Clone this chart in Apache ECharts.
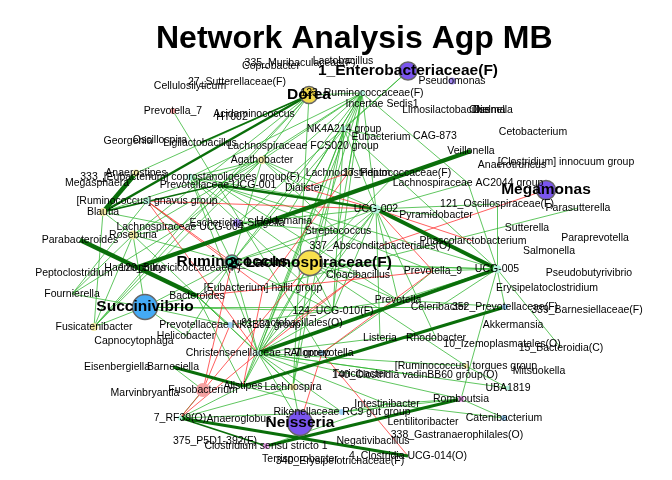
<!DOCTYPE html>
<html>
<head>
<meta charset="utf-8">
<script src="https://cdn.jsdelivr.net/npm/echarts@6/dist/echarts.min.js"></script>
<style>
  html, body { margin: 0; padding: 0; background: #fff; }
  #chart { width: 672px; height: 480px; }
</style>
</head>
<body>
<div id="chart"></div>
<script>
// node name, layout x, layout y
const nodes = [
  ['335_Muribaculaceae(F)', 300, 63], ['Coprobacter', 271, 66], ['Lactobacillus', 343, 61],
  ['1_Enterobacteriaceae(F)', 408, 71], ['Pseudomonas', 452, 81], ['27_Sutterellaceae(F)', 237, 82],
  ['Cellulosilyticum', 190, 86], ['Dorea', 309, 95], ['123_Ruminococcaceae(F)', 362, 93],
  ['Incertae Sedis1', 382, 104], ['Limosilactobacillus', 446, 110], ['Olsenella', 491, 110],
  ['Dielma', 489, 110], ['Prevotella_7', 173, 111], ['HT002', 232, 117],
  ['Acidaminococcus', 254, 114], ['NK4A214 group', 344, 129], ['Eubacterium', 381, 137],
  ['CAG-873', 435, 136], ['Cetobacterium', 533, 132], ['Georgenia', 128, 141],
  ['Oscillospira', 160, 140], ['Ligilactobacillus', 200, 143], ['Lachnospiraceae FCS020 group', 303, 146],
  ['Veillonella', 471, 151], ['Agathobacter', 262, 160], ['[Clostridium] innocuum group', 566, 162],
  ['Anaerotruncus', 512, 165], ['Anaerostipes', 136, 173], ['333_[Eubacterium] coprostanoligenes group(F)', 190, 177],
  ['Megasphaera', 97, 183], ['Prevotellaceae UCG-001', 218, 185], ['Lachnoclostridium', 348, 173],
  ['17_Peptococcaceae(F)', 397, 173], ['Dialister', 304, 188], ['Lachnospiraceae AC2044 group', 468, 183],
  ['Megamonas', 546, 190], ['121_Oscillospiraceae(F)', 497, 204], ['Parasutterella', 578, 208],
  ['[Ruminococcus] gnavus group', 147, 201], ['Blautia', 103, 212], ['UCG-002', 376, 209],
  ['Pyramidobacter', 436, 215], ['Holdemania', 284, 221], ['Escherichia-Shigella', 237, 223],
  ['Lachnospiraceae UCG-004', 180, 227], ['Sutterella', 527, 228], ['Streptococcus', 338, 231],
  ['Roseburia', 133, 235], ['Parabacteroides', 80, 240], ['Phascolarctobacterium', 473, 241],
  ['Paraprevotella', 595, 238], ['337_Absconditabacteriales(O)', 380, 246], ['Salmonella', 549, 251],
  ['Ruminococcus', 232, 262], ['2_Lachnospiraceae(F)', 310, 263], ['Cloacibacillus', 358, 275],
  ['Prevotella_9', 433, 271], ['UCG-005', 497, 269], ['Pseudobutyrivibrio', 589, 273],
  ['Peptoclostridium', 74, 273], ['Haemophilus', 135, 268], ['120_Butyricicoccaceae(F)', 180, 268],
  ['Erysipelatoclostridium', 547, 288], ['[Eubacterium] hallii group', 263, 288], ['Fournierella', 72, 294],
  ['Bacteroides', 197, 296], ['Succinivibrio', 145, 307], ['Prevotella', 398, 300],
  ['Celeribacter', 439, 307], ['352_Prevotellaceae(F)', 505, 307], ['339_Barnesiellaceae(F)', 587, 310],
  ['124_UCG-010(F)', 333, 311], ['Prevotellaceae NK3B31 group', 230, 325], ['91_Lactobacillales(O)', 292, 323],
  ['Akkermansia', 513, 325], ['Fusicatenibacter', 94, 327], ['Helicobacter', 186, 336],
  ['Capnocytophaga', 134, 341], ['Listeria', 380, 338], ['Rhodobacter', 436, 338],
  ['10_Izemoplasmatales(O)', 502, 344], ['15_Bacteroidia(C)', 561, 348], ['Christensenellaceae R-7 group', 258, 353],
  ['Alloprevotella', 322, 353], ['[Ruminococcus] torgues group', 466, 366], ['Mitsuokella', 539, 371],
  ['Eisenbergiella', 117, 367], ['Barnesiella', 173, 367], ['Turicibacter', 360, 374],
  ['140_Clostridia vadinBB60 group(O)', 415, 375], ['UBA1819', 508, 388], ['Alistipes', 243, 386],
  ['Lachnospira', 293, 387], ['Marvinbryantia', 145, 393], ['Fusobacterium', 203, 390],
  ['Romboutsia', 461, 399], ['Intestinibacter', 387, 404], ['7_RF39(O)', 180, 418],
  ['Anaeroglobus', 239, 419], ['Rikenellaceae RC9 gut group', 342, 412], ['Catenibacterium', 504, 418],
  ['Neisseria', 300, 423], ['Lentilitoribacter', 423, 422], ['375_P5D1-392(F)', 215, 441],
  ['Negativibacillus', 373, 441], ['338_Gastranaerophilales(O)', 457, 435], ['Clostridium sensu stricto 1', 266, 446],
  ['4_Clostridia UCG-014(O)', 408, 456], ['Terrisporobacter', 300, 459], ['340_Erysipelotrichaceae(F)', 340, 461]
];

// strong positive correlations: [from, to, strength]
const strongLinks = [
  ['Anaerostipes', 'Blautia', 4.5], ['Dorea', 'Blautia', 2.5], ['Parabacteroides', 'Bacteroides', 4.5],
  ['Haemophilus', 'Veillonella', 4.5], ['Prevotellaceae UCG-001', 'UCG-002', 2.5], ['UCG-002', 'UCG-005', 4],
  ['Christensenellaceae R-7 group', 'UCG-005', 3.5], ['Alistipes', '352_Prevotellaceae(F)', 3],
  ['Barnesiella', 'Alistipes', 3], ['Clostridium sensu stricto 1', 'Romboutsia', 3],
  ['7_RF39(O)', '4_Clostridia UCG-014(O)', 3], ['7_RF39(O)', 'Clostridium sensu stricto 1', 1.8],
  ['Dorea', 'Ligilactobacillus', 1.5], ['Blautia', 'Prevotellaceae UCG-001', 1.5]
];

// positive correlations
const posLinks = [
  ['123_Ruminococcaceae(F)', 'Dorea'], ['123_Ruminococcaceae(F)', 'Agathobacter'], ['123_Ruminococcaceae(F)', 'Lachnospiraceae FCS020 group'],
  ['123_Ruminococcaceae(F)', 'NK4A214 group'], ['123_Ruminococcaceae(F)', 'Dialister'], ['123_Ruminococcaceae(F)', 'Lachnoclostridium'],
  ['123_Ruminococcaceae(F)', 'UCG-002'], ['123_Ruminococcaceae(F)', 'Streptococcus'], ['123_Ruminococcaceae(F)', '2_Lachnospiraceae(F)'],
  ['123_Ruminococcaceae(F)', 'Ruminococcus'], ['123_Ruminococcaceae(F)', 'Christensenellaceae R-7 group'], ['123_Ruminococcaceae(F)', '124_UCG-010(F)'],
  ['123_Ruminococcaceae(F)', 'Lachnospiraceae AC2044 group'], ['123_Ruminococcaceae(F)', '333_[Eubacterium] coprostanoligenes group(F)'],
  ['123_Ruminococcaceae(F)', 'Prevotellaceae UCG-001'], ['123_Ruminococcaceae(F)', 'Holdemania'],
  ['1_Enterobacteriaceae(F)', 'NK4A214 group'], ['1_Enterobacteriaceae(F)', 'Escherichia-Shigella'],
  ['Dorea', 'Agathobacter'], ['Dorea', 'Roseburia'], ['Dorea', 'Anaerostipes'], ['Dorea', 'Lachnospiraceae UCG-004'],
  ['Dorea', 'Fusicatenibacter'], ['Dorea', 'Lachnospira'],
  ['Agathobacter', 'Blautia'], ['Agathobacter', 'Roseburia'], ['Agathobacter', 'Lachnospiraceae UCG-004'], ['Agathobacter', 'Ruminococcus'],
  ['Agathobacter', 'Fusicatenibacter'], ['Agathobacter', 'UCG-002'], ['Agathobacter', 'Dialister'], ['Agathobacter', 'Streptococcus'],
  ['NK4A214 group', 'UCG-002'], ['NK4A214 group', 'Christensenellaceae R-7 group'], ['NK4A214 group', '124_UCG-010(F)'],
  ['NK4A214 group', '2_Lachnospiraceae(F)'], ['NK4A214 group', 'UCG-005'], ['NK4A214 group', 'Eubacterium'],
  ['NK4A214 group', 'Ruminococcus'], ['NK4A214 group', 'Lachnospira'], ['NK4A214 group', 'Alistipes'],
  ['Prevotella_7', 'Prevotellaceae UCG-001'],
  ['333_[Eubacterium] coprostanoligenes group(F)', 'UCG-002'], ['333_[Eubacterium] coprostanoligenes group(F)', 'Ruminococcus'],
  ['333_[Eubacterium] coprostanoligenes group(F)', '2_Lachnospiraceae(F)'], ['333_[Eubacterium] coprostanoligenes group(F)', 'Christensenellaceae R-7 group'],
  ['333_[Eubacterium] coprostanoligenes group(F)', '124_UCG-010(F)'], ['333_[Eubacterium] coprostanoligenes group(F)', 'UCG-005'],
  ['333_[Eubacterium] coprostanoligenes group(F)', 'Agathobacter'],
  ['Prevotellaceae UCG-001', 'Prevotella'], ['Prevotellaceae UCG-001', 'Prevotella_9'], ['Prevotellaceae UCG-001', 'Alloprevotella'],
  ['Blautia', 'Fusicatenibacter'], ['Blautia', 'Roseburia'], ['Blautia', 'Lachnospiraceae UCG-004'],
  ['Roseburia', 'Fusicatenibacter'], ['Roseburia', 'Lachnospiraceae UCG-004'], ['Roseburia', 'Ruminococcus'],
  ['Roseburia', 'Succinivibrio'], ['Roseburia', 'Lachnospira'],
  ['[Ruminococcus] gnavus group', 'Lachnospiraceae UCG-004'], ['[Ruminococcus] gnavus group', 'Fournierella'], ['[Ruminococcus] gnavus group', 'Blautia'],
  ['Escherichia-Shigella', 'Holdemania'], ['Escherichia-Shigella', 'Streptococcus'], ['Escherichia-Shigella', 'UCG-002'],
  ['Ruminococcus', '2_Lachnospiraceae(F)'], ['Ruminococcus', 'Christensenellaceae R-7 group'], ['Ruminococcus', 'UCG-002'],
  ['Ruminococcus', 'UCG-005'], ['Ruminococcus', 'Bacteroides'], ['Ruminococcus', 'Succinivibrio'], ['Ruminococcus', '124_UCG-010(F)'],
  ['Ruminococcus', 'Streptococcus'], ['Ruminococcus', 'Helicobacter'],
  ['2_Lachnospiraceae(F)', 'UCG-002'], ['2_Lachnospiraceae(F)', 'UCG-005'], ['2_Lachnospiraceae(F)', 'Christensenellaceae R-7 group'],
  ['2_Lachnospiraceae(F)', 'Alistipes'], ['2_Lachnospiraceae(F)', 'Lachnospira'], ['2_Lachnospiraceae(F)', '124_UCG-010(F)'],
  ['2_Lachnospiraceae(F)', 'Cloacibacillus'], ['2_Lachnospiraceae(F)', 'Prevotella'], ['2_Lachnospiraceae(F)', '17_Peptococcaceae(F)'],
  ['UCG-002', 'Christensenellaceae R-7 group'], ['UCG-002', '124_UCG-010(F)'], ['UCG-002', 'Prevotella'], ['UCG-002', 'Listeria'],
  ['UCG-002', 'Pyramidobacter'], ['UCG-002', '121_Oscillospiraceae(F)'], ['UCG-002', 'Rhodobacter'], ['UCG-002', '91_Lactobacillales(O)'],
  ['UCG-005', 'Prevotella_9'], ['UCG-005', 'Prevotella'], ['UCG-005', '352_Prevotellaceae(F)'], ['UCG-005', 'Celeribacter'],
  ['UCG-005', '15_Bacteroidia(C)'], ['UCG-005', 'Romboutsia'], ['UCG-005', 'Lachnospiraceae AC2044 group'], ['UCG-005', '121_Oscillospiraceae(F)'],
  ['Succinivibrio', 'Fusicatenibacter'], ['Succinivibrio', 'Bacteroides'], ['Succinivibrio', 'Fournierella'],
  ['Succinivibrio', 'Prevotellaceae NK3B31 group'], ['Succinivibrio', '124_UCG-010(F)'], ['Succinivibrio', 'Celeribacter'],
  ['Succinivibrio', 'Helicobacter'],
  ['Fournierella', 'Roseburia'], ['Fournierella', 'Lachnospiraceae UCG-004'],
  ['Fusicatenibacter', 'Lachnospiraceae UCG-004'],
  ['Bacteroides', 'Christensenellaceae R-7 group'], ['Bacteroides', 'Alistipes'], ['Bacteroides', 'Prevotellaceae NK3B31 group'],
  ['Christensenellaceae R-7 group', '124_UCG-010(F)'], ['Christensenellaceae R-7 group', 'Alistipes'], ['Christensenellaceae R-7 group', 'Lachnospira'],
  ['Christensenellaceae R-7 group', 'Rikenellaceae RC9 gut group'], ['Christensenellaceae R-7 group', 'Listeria'],
  ['Christensenellaceae R-7 group', 'UBA1819'], ['Christensenellaceae R-7 group', '[Ruminococcus] torgues group'],
  ['Christensenellaceae R-7 group', '91_Lactobacillales(O)'], ['Christensenellaceae R-7 group', 'Neisseria'],
  ['Christensenellaceae R-7 group', 'Romboutsia'], ['Christensenellaceae R-7 group', 'Intestinibacter'],
  ['Christensenellaceae R-7 group', '140_Clostridia vadinBB60 group(O)'],
  ['Alistipes', 'Rikenellaceae RC9 gut group'], ['Alistipes', 'Lachnospira'],
  ['7_RF39(O)', 'Fusobacterium'], ['7_RF39(O)', 'Alistipes'], ['7_RF39(O)', 'Rikenellaceae RC9 gut group'], ['7_RF39(O)', 'Lachnospira'],
  ['Fusobacterium', 'Barnesiella'],
  ['Neisseria', 'Lachnospira'],
  ['Rikenellaceae RC9 gut group', 'Romboutsia'], ['Rikenellaceae RC9 gut group', 'Intestinibacter'],
  ['Romboutsia', 'Catenibacterium'], ['Intestinibacter', 'Catenibacterium'], ['Romboutsia', 'Intestinibacter'],
  ['[Ruminococcus] torgues group', 'UBA1819'], ['[Ruminococcus] torgues group', '2_Lachnospiraceae(F)'],
  ['Clostridium sensu stricto 1', 'Intestinibacter'],
  ['Prevotella', 'Prevotella_9'], ['Prevotella', 'Alloprevotella'], ['Prevotella', 'Prevotellaceae NK3B31 group'],
  ['Prevotella', '352_Prevotellaceae(F)'], ['Listeria', 'Rhodobacter'],
  ['Parasutterella', '[Eubacterium] hallii group'], ['Lachnospiraceae AC2044 group', 'UCG-002']
];

// negative correlations
const negLinks = [
  ['[Ruminococcus] gnavus group', 'UCG-002'], ['[Ruminococcus] gnavus group', 'Ruminococcus'],
  ['[Ruminococcus] gnavus group', '[Eubacterium] hallii group'], ['Dialister', 'UCG-002'],
  ['Lachnoclostridium', '[Eubacterium] hallii group'], ['Lachnoclostridium', 'Dialister'],
  ['Megamonas', '337_Absconditabacteriales(O)'], ['UCG-002', 'Prevotella_9'], ['UCG-002', 'Phascolarctobacterium'],
  ['Bacteroides', 'Prevotella_9'], ['Cloacibacillus', '91_Lactobacillales(O)'],
  ['Fusobacterium', 'Ruminococcus'], ['Fusobacterium', 'Prevotellaceae NK3B31 group'],
  ['7_RF39(O)', 'Christensenellaceae R-7 group'], ['7_RF39(O)', '2_Lachnospiraceae(F)'],
  ['Neisseria', 'Alloprevotella'], ['Alloprevotella', '4_Clostridia UCG-014(O)'],
  ['[Eubacterium] hallii group', 'Alistipes'], ['Cloacibacillus', 'Christensenellaceae R-7 group'],
  ['Prevotella_9', 'Alloprevotella'], ['[Ruminococcus] gnavus group', 'Christensenellaceae R-7 group']
];

// node marks: [diameter, fill, bold label]
const hubStyle = {
  '1_Enterobacteriaceae(F)': [18, '#7a55ee', true], 'Megamonas': [19, '#7a55ee', true],
  'Neisseria': [25, '#7a55ee', true], 'Dorea': [17, '#f2d84a', true],
  '2_Lachnospiraceae(F)': [25, '#f7e04d', true], 'Succinivibrio': [25, '#44aaf5', true],
  'Ruminococcus': [14, '#4fe0b0', true]
};
const smallStyle = {
  'Pseudomonas': [7, '#a58cf5'], 'Escherichia-Shigella': [8, '#a58cf5'],
  '123_Ruminococcaceae(F)': [6, '#b5f3dd'], 'NK4A214 group': [6, '#b5f3dd'], 'UCG-002': [9, '#b5f3dd'],
  'UCG-005': [8, '#b5f3dd'], '333_[Eubacterium] coprostanoligenes group(F)': [7, '#b5f3dd'],
  '[Ruminococcus] gnavus group': [7, '#b5f3dd'], 'Christensenellaceae R-7 group': [6, '#b5f3dd'],
  '7_RF39(O)': [5, '#b5f3dd'], 'UBA1819': [5, '#b5f3dd'],
  'Agathobacter': [8, '#f4eaa6'], 'Anaerostipes': [7, '#f4eaa6'], 'Blautia': [8, '#f4eaa6'],
  'Roseburia': [9, '#f4eaa6'], 'Fusicatenibacter': [8, '#f4eaa6'], 'Lachnospira': [7, '#f4eaa6'],
  'Lachnoclostridium': [6, '#f4eaa6'], '[Ruminococcus] torgues group': [5, '#f4eaa6'],
  'Prevotella_7': [6, '#f5a3a3'], 'Fusobacterium': [14, '#f5a3a3'],
  '352_Prevotellaceae(F)': [6, '#9dd0f5'], 'Rikenellaceae RC9 gut group': [6, '#9dd0f5'],
  'Catenibacterium': [6, '#9dd0f5'], 'Prevotellaceae NK3B31 group': [6, '#9dd0f5'], 'Alloprevotella': [6, '#9dd0f5'],
  'Clostridium sensu stricto 1': [6, '#f0a6f0'], 'Romboutsia': [6, '#f0a6f0']
};

const names = new Set(nodes.map((n) => n[0]));

const graphNodes = nodes.map(([name, x, y]) => {
  const hub = hubStyle[name];
  const small = smallStyle[name];
  if (hub) {
    return {
      name,
      value: [x, y],
      symbolSize: hub[0],
      itemStyle: { color: hub[1], borderColor: '#666', borderWidth: 1.5 },
      label: { fontSize: 15.5, fontWeight: 'bold' },
      z: 3,
    };
  }
  return {
    name,
    value: [x, y],
    symbolSize: small ? small[0] : 0,
    itemStyle: { color: small ? small[1] : 'rgba(0,0,0,0)', borderWidth: 0 },
  };
});

const makeLinks = (list, color, width) =>
  list
    .filter((l) => names.has(l[0]) && names.has(l[1]))
    .map((l) => ({
      source: l[0],
      target: l[1],
      lineStyle: { color, width: l[2] || width, opacity: 1 },
    }));

const graphLinks = [
  ...makeLinks(posLinks, '#2bb32b', 0.75),
  ...makeLinks(negLinks, '#ff2a2a', 0.75),
  ...makeLinks(strongLinks, '#0a6e0a', 3),
];

const myChart = echarts.init(document.getElementById('chart'));
myChart.setOption({
  animation: false,
  backgroundColor: '#fff',
  title: {
    text: 'Network Analysis Agp MB',
    left: 156,
    top: 23,
    padding: 0,
    textStyle: {
      fontSize: 32,
      fontWeight: 'bold',
      color: '#000',
      fontFamily: 'Liberation Sans, Arial, sans-serif',
    },
  },
  grid: { left: 0, right: 0, top: 0, bottom: 0 },
  xAxis: { type: 'value', min: 0, max: 672, show: false },
  yAxis: { type: 'value', min: 0, max: 480, inverse: true, show: false },
  series: [
    {
      type: 'graph',
      coordinateSystem: 'cartesian2d',
      layout: 'none',
      symbol: 'circle',
      data: graphNodes,
      links: graphLinks,
      label: {
        show: true,
        position: 'inside',
        color: '#000',
        fontSize: 10.5,
        fontFamily: 'Liberation Sans, Arial, sans-serif',
      },
      emphasis: { disabled: true },
    },
  ],
});
</script>
</body>
</html>
